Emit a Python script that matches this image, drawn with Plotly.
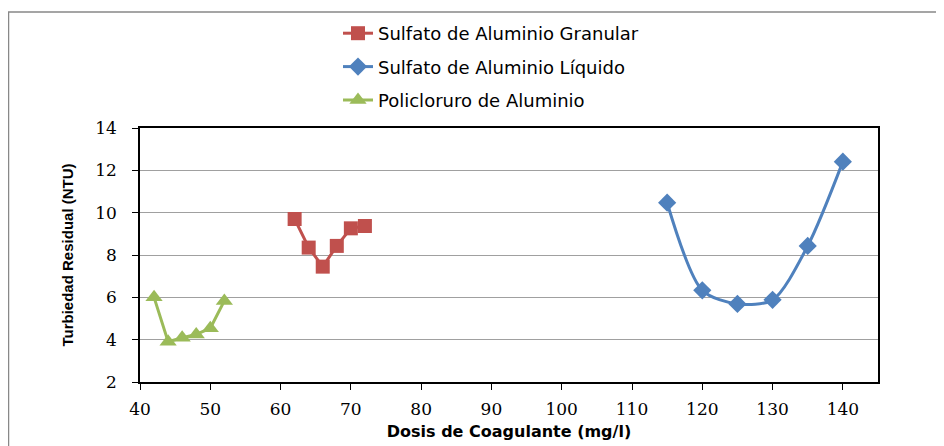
import plotly.graph_objects as go

# Data
gran_x = [62, 64, 66, 68, 70, 72]
gran_y = [9.7, 8.35, 7.45, 8.43, 9.26, 9.37]
liq_x = [115, 120, 125, 130, 135, 140]
liq_y = [10.47, 6.33, 5.69, 5.88, 8.43, 12.41]
pol_x = [42, 44, 46, 48, 50, 52]
pol_y = [6.0, 3.9, 4.09, 4.25, 4.54, 5.83]

x_ticks = [40, 50, 60, 70, 80, 90, 100, 110, 120, 130, 140]
y_ticks = [2, 4, 6, 8, 10, 12, 14]

RED = "#C0504D"
BLUE = "#4F81BD"
GREEN = "#9BBB59"
LEGFONT = "DejaVu Sans, sans-serif"
TICKFONT = "DejaVu Serif, Liberation Serif, serif"

W, H = 936, 438
L, R, T, B = 132, 66, 120, 64
PW, PH = W - L - R, H - T - B

fig = go.Figure()
fig.add_trace(go.Scatter(x=gran_x, y=gran_y, mode="lines+markers",
                         name="Sulfato de Aluminio Granular", legendgroup="a",
                         line=dict(color=RED, width=3),
                         marker=dict(symbol="square", size=14, color=RED)))
fig.add_trace(go.Scatter(x=liq_x, y=liq_y, mode="lines+markers",
                         name="Sulfato de Aluminio Líquido", legendgroup="b",
                         line=dict(color=BLUE, width=3, shape="spline", smoothing=0.8),
                         marker=dict(symbol="diamond", size=14, color=BLUE)))
fig.add_trace(go.Scatter(x=pol_x, y=pol_y, mode="lines+markers",
                         name="Policloruro de Aluminio", legendgroup="c",
                         line=dict(color=GREEN, width=3),
                         marker=dict(symbol="triangle-up", size=15, color=GREEN)))

fig.update_layout(
    width=W, height=H,
    margin=dict(l=L, r=R, t=T, b=B, autoexpand=False),
    paper_bgcolor="white", plot_bgcolor="white",
    showlegend=True,
    legend=dict(x=(378 - 8 - 40 - L) / PW, y=1 - 7 / H, xref="paper", yref="container",
                xanchor="left", yanchor="top",
                orientation="v", tracegroupgap=7, traceorder="grouped",
                font=dict(family=LEGFONT, size=18, color="black"),
                bgcolor="rgba(0,0,0,0)"),
    xaxis=dict(range=[40, 145], tickvals=x_ticks, showgrid=False,
               showline=True, linecolor="black", linewidth=1.5, mirror=True,
               ticks="outside", ticklen=6, tickcolor="black", ticklabelstandoff=5,
               tickfont=dict(family=TICKFONT, size=17, color="black"),
               title=dict(text="<b>Dosis de Coagulante (mg/l)</b>", standoff=8,
                          font=dict(family="DejaVu Sans, sans-serif", size=16, color="black")),
               zeroline=False),
    yaxis=dict(range=[2, 14], tickvals=y_ticks, showgrid=True, gridcolor="#A0A0A0", gridwidth=1.2,
               showline=True, linecolor="black", linewidth=1.5, mirror=True,
               ticks="outside", ticklen=6, tickcolor="black", ticklabelstandoff=12,
               tickfont=dict(family=TICKFONT, size=17, color="black"),
               title=dict(text="<b>Turbiedad Residual (NTU)</b>", standoff=18,
                          font=dict(family="Liberation Sans, sans-serif", size=15, color="black")),
               zeroline=False),
    shapes=[dict(type="rect", xref="paper", yref="paper",
                 x0=-(L - 0.5) / PW, x1=1 + (R + 20) / PW,
                 y0=-(B + 20) / PH, y1=1 + (T - 4) / PH,
                 line=dict(color="#888888", width=1.5), fillcolor="rgba(0,0,0,0)", layer="below")],
)

fig.write_html("out.html")
